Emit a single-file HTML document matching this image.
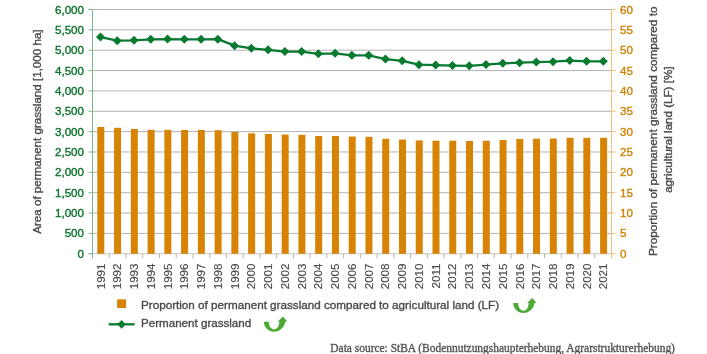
<!DOCTYPE html><html><head><meta charset="utf-8"><style>html,body{margin:0;padding:0;background:#fff;width:707px;height:354px;overflow:hidden}svg{display:block}text{font-family:"Liberation Sans",sans-serif;stroke:currentColor;stroke-width:0.35px}svg{will-change:transform}</style></head><body>
<svg width="707" height="354" viewBox="0 0 707 354">
<line x1="92.5" y1="9.50" x2="611.5" y2="9.50" stroke="#b3b3b3" stroke-width="1"/>
<line x1="92.5" y1="29.85" x2="611.5" y2="29.85" stroke="#b3b3b3" stroke-width="1"/>
<line x1="92.5" y1="50.21" x2="611.5" y2="50.21" stroke="#b3b3b3" stroke-width="1"/>
<line x1="92.5" y1="70.56" x2="611.5" y2="70.56" stroke="#b3b3b3" stroke-width="1"/>
<line x1="92.5" y1="90.92" x2="611.5" y2="90.92" stroke="#b3b3b3" stroke-width="1"/>
<line x1="92.5" y1="111.27" x2="611.5" y2="111.27" stroke="#b3b3b3" stroke-width="1"/>
<line x1="92.5" y1="131.62" x2="611.5" y2="131.62" stroke="#b3b3b3" stroke-width="1"/>
<line x1="92.5" y1="151.98" x2="611.5" y2="151.98" stroke="#b3b3b3" stroke-width="1"/>
<line x1="92.5" y1="172.33" x2="611.5" y2="172.33" stroke="#b3b3b3" stroke-width="1"/>
<line x1="92.5" y1="192.69" x2="611.5" y2="192.69" stroke="#b3b3b3" stroke-width="1"/>
<line x1="92.5" y1="213.04" x2="611.5" y2="213.04" stroke="#b3b3b3" stroke-width="1"/>
<line x1="92.5" y1="233.40" x2="611.5" y2="233.40" stroke="#b3b3b3" stroke-width="1"/>
<line x1="88.5" y1="253.75" x2="611.5" y2="253.75" stroke="#c4c4c4" stroke-width="1"/>
<rect x="97.30" y="127.00" width="7" height="126.75" fill="#d78406"/>
<rect x="114.06" y="127.80" width="7" height="125.95" fill="#d78406"/>
<rect x="130.82" y="129.00" width="7" height="124.75" fill="#d78406"/>
<rect x="147.58" y="129.80" width="7" height="123.95" fill="#d78406"/>
<rect x="164.34" y="129.80" width="7" height="123.95" fill="#d78406"/>
<rect x="181.10" y="130.00" width="7" height="123.75" fill="#d78406"/>
<rect x="197.86" y="130.00" width="7" height="123.75" fill="#d78406"/>
<rect x="214.62" y="130.20" width="7" height="123.55" fill="#d78406"/>
<rect x="231.38" y="132.00" width="7" height="121.75" fill="#d78406"/>
<rect x="248.14" y="133.30" width="7" height="120.45" fill="#d78406"/>
<rect x="264.90" y="134.00" width="7" height="119.75" fill="#d78406"/>
<rect x="281.66" y="134.50" width="7" height="119.25" fill="#d78406"/>
<rect x="298.42" y="134.80" width="7" height="118.95" fill="#d78406"/>
<rect x="315.18" y="136.00" width="7" height="117.75" fill="#d78406"/>
<rect x="331.94" y="136.00" width="7" height="117.75" fill="#d78406"/>
<rect x="348.70" y="136.50" width="7" height="117.25" fill="#d78406"/>
<rect x="365.46" y="136.80" width="7" height="116.95" fill="#d78406"/>
<rect x="382.22" y="138.80" width="7" height="114.95" fill="#d78406"/>
<rect x="398.98" y="139.50" width="7" height="114.25" fill="#d78406"/>
<rect x="415.74" y="140.40" width="7" height="113.35" fill="#d78406"/>
<rect x="432.50" y="140.70" width="7" height="113.05" fill="#d78406"/>
<rect x="449.26" y="140.70" width="7" height="113.05" fill="#d78406"/>
<rect x="466.02" y="141.00" width="7" height="112.75" fill="#d78406"/>
<rect x="482.78" y="140.70" width="7" height="113.05" fill="#d78406"/>
<rect x="499.54" y="140.00" width="7" height="113.75" fill="#d78406"/>
<rect x="516.30" y="139.00" width="7" height="114.75" fill="#d78406"/>
<rect x="533.06" y="138.70" width="7" height="115.05" fill="#d78406"/>
<rect x="549.82" y="138.50" width="7" height="115.25" fill="#d78406"/>
<rect x="566.58" y="137.80" width="7" height="115.95" fill="#d78406"/>
<rect x="583.34" y="137.80" width="7" height="115.95" fill="#d78406"/>
<rect x="600.10" y="137.80" width="7" height="115.95" fill="#d78406"/>
<line x1="109.24" y1="253.75" x2="109.24" y2="258.25" stroke="#b4b4b4" stroke-width="1"/>
<line x1="125.98" y1="253.75" x2="125.98" y2="258.25" stroke="#b4b4b4" stroke-width="1"/>
<line x1="142.73" y1="253.75" x2="142.73" y2="258.25" stroke="#b4b4b4" stroke-width="1"/>
<line x1="159.47" y1="253.75" x2="159.47" y2="258.25" stroke="#b4b4b4" stroke-width="1"/>
<line x1="176.21" y1="253.75" x2="176.21" y2="258.25" stroke="#b4b4b4" stroke-width="1"/>
<line x1="192.95" y1="253.75" x2="192.95" y2="258.25" stroke="#b4b4b4" stroke-width="1"/>
<line x1="209.69" y1="253.75" x2="209.69" y2="258.25" stroke="#b4b4b4" stroke-width="1"/>
<line x1="226.44" y1="253.75" x2="226.44" y2="258.25" stroke="#b4b4b4" stroke-width="1"/>
<line x1="243.18" y1="253.75" x2="243.18" y2="258.25" stroke="#b4b4b4" stroke-width="1"/>
<line x1="259.92" y1="253.75" x2="259.92" y2="258.25" stroke="#b4b4b4" stroke-width="1"/>
<line x1="276.66" y1="253.75" x2="276.66" y2="258.25" stroke="#b4b4b4" stroke-width="1"/>
<line x1="293.40" y1="253.75" x2="293.40" y2="258.25" stroke="#b4b4b4" stroke-width="1"/>
<line x1="310.15" y1="253.75" x2="310.15" y2="258.25" stroke="#b4b4b4" stroke-width="1"/>
<line x1="326.89" y1="253.75" x2="326.89" y2="258.25" stroke="#b4b4b4" stroke-width="1"/>
<line x1="343.63" y1="253.75" x2="343.63" y2="258.25" stroke="#b4b4b4" stroke-width="1"/>
<line x1="360.37" y1="253.75" x2="360.37" y2="258.25" stroke="#b4b4b4" stroke-width="1"/>
<line x1="377.11" y1="253.75" x2="377.11" y2="258.25" stroke="#b4b4b4" stroke-width="1"/>
<line x1="393.85" y1="253.75" x2="393.85" y2="258.25" stroke="#b4b4b4" stroke-width="1"/>
<line x1="410.60" y1="253.75" x2="410.60" y2="258.25" stroke="#b4b4b4" stroke-width="1"/>
<line x1="427.34" y1="253.75" x2="427.34" y2="258.25" stroke="#b4b4b4" stroke-width="1"/>
<line x1="444.08" y1="253.75" x2="444.08" y2="258.25" stroke="#b4b4b4" stroke-width="1"/>
<line x1="460.82" y1="253.75" x2="460.82" y2="258.25" stroke="#b4b4b4" stroke-width="1"/>
<line x1="477.56" y1="253.75" x2="477.56" y2="258.25" stroke="#b4b4b4" stroke-width="1"/>
<line x1="494.31" y1="253.75" x2="494.31" y2="258.25" stroke="#b4b4b4" stroke-width="1"/>
<line x1="511.05" y1="253.75" x2="511.05" y2="258.25" stroke="#b4b4b4" stroke-width="1"/>
<line x1="527.79" y1="253.75" x2="527.79" y2="258.25" stroke="#b4b4b4" stroke-width="1"/>
<line x1="544.53" y1="253.75" x2="544.53" y2="258.25" stroke="#b4b4b4" stroke-width="1"/>
<line x1="561.27" y1="253.75" x2="561.27" y2="258.25" stroke="#b4b4b4" stroke-width="1"/>
<line x1="578.02" y1="253.75" x2="578.02" y2="258.25" stroke="#b4b4b4" stroke-width="1"/>
<line x1="594.76" y1="253.75" x2="594.76" y2="258.25" stroke="#b4b4b4" stroke-width="1"/>
<line x1="92.5" y1="9.5" x2="92.5" y2="258.25" stroke="#7cb88a" stroke-width="1"/>
<line x1="88.5" y1="9.50" x2="92.5" y2="9.50" stroke="#7cb88a" stroke-width="1"/>
<line x1="88.5" y1="29.85" x2="92.5" y2="29.85" stroke="#7cb88a" stroke-width="1"/>
<line x1="88.5" y1="50.21" x2="92.5" y2="50.21" stroke="#7cb88a" stroke-width="1"/>
<line x1="88.5" y1="70.56" x2="92.5" y2="70.56" stroke="#7cb88a" stroke-width="1"/>
<line x1="88.5" y1="90.92" x2="92.5" y2="90.92" stroke="#7cb88a" stroke-width="1"/>
<line x1="88.5" y1="111.27" x2="92.5" y2="111.27" stroke="#7cb88a" stroke-width="1"/>
<line x1="88.5" y1="131.62" x2="92.5" y2="131.62" stroke="#7cb88a" stroke-width="1"/>
<line x1="88.5" y1="151.98" x2="92.5" y2="151.98" stroke="#7cb88a" stroke-width="1"/>
<line x1="88.5" y1="172.33" x2="92.5" y2="172.33" stroke="#7cb88a" stroke-width="1"/>
<line x1="88.5" y1="192.69" x2="92.5" y2="192.69" stroke="#7cb88a" stroke-width="1"/>
<line x1="88.5" y1="213.04" x2="92.5" y2="213.04" stroke="#7cb88a" stroke-width="1"/>
<line x1="88.5" y1="233.40" x2="92.5" y2="233.40" stroke="#7cb88a" stroke-width="1"/>
<line x1="88.5" y1="253.75" x2="92.5" y2="253.75" stroke="#7cb88a" stroke-width="1"/>
<line x1="611.5" y1="9.5" x2="611.5" y2="258.25" stroke="#f2c07a" stroke-width="1"/>
<line x1="611.5" y1="9.50" x2="615.5" y2="9.50" stroke="#f2c07a" stroke-width="1"/>
<line x1="611.5" y1="29.85" x2="615.5" y2="29.85" stroke="#f2c07a" stroke-width="1"/>
<line x1="611.5" y1="50.21" x2="615.5" y2="50.21" stroke="#f2c07a" stroke-width="1"/>
<line x1="611.5" y1="70.56" x2="615.5" y2="70.56" stroke="#f2c07a" stroke-width="1"/>
<line x1="611.5" y1="90.92" x2="615.5" y2="90.92" stroke="#f2c07a" stroke-width="1"/>
<line x1="611.5" y1="111.27" x2="615.5" y2="111.27" stroke="#f2c07a" stroke-width="1"/>
<line x1="611.5" y1="131.62" x2="615.5" y2="131.62" stroke="#f2c07a" stroke-width="1"/>
<line x1="611.5" y1="151.98" x2="615.5" y2="151.98" stroke="#f2c07a" stroke-width="1"/>
<line x1="611.5" y1="172.33" x2="615.5" y2="172.33" stroke="#f2c07a" stroke-width="1"/>
<line x1="611.5" y1="192.69" x2="615.5" y2="192.69" stroke="#f2c07a" stroke-width="1"/>
<line x1="611.5" y1="213.04" x2="615.5" y2="213.04" stroke="#f2c07a" stroke-width="1"/>
<line x1="611.5" y1="233.40" x2="615.5" y2="233.40" stroke="#f2c07a" stroke-width="1"/>
<line x1="611.5" y1="253.75" x2="615.5" y2="253.75" stroke="#f2c07a" stroke-width="1"/>
<text x="84" y="13.50" text-anchor="end" font-size="11.6" fill="#0a722a" color="#0a722a">6,000</text>
<text x="84" y="33.85" text-anchor="end" font-size="11.6" fill="#0a722a" color="#0a722a">5,500</text>
<text x="84" y="54.21" text-anchor="end" font-size="11.6" fill="#0a722a" color="#0a722a">5,000</text>
<text x="84" y="74.56" text-anchor="end" font-size="11.6" fill="#0a722a" color="#0a722a">4,500</text>
<text x="84" y="94.92" text-anchor="end" font-size="11.6" fill="#0a722a" color="#0a722a">4,000</text>
<text x="84" y="115.27" text-anchor="end" font-size="11.6" fill="#0a722a" color="#0a722a">3,500</text>
<text x="84" y="135.62" text-anchor="end" font-size="11.6" fill="#0a722a" color="#0a722a">3,000</text>
<text x="84" y="155.98" text-anchor="end" font-size="11.6" fill="#0a722a" color="#0a722a">2,500</text>
<text x="84" y="176.33" text-anchor="end" font-size="11.6" fill="#0a722a" color="#0a722a">2,000</text>
<text x="84" y="196.69" text-anchor="end" font-size="11.6" fill="#0a722a" color="#0a722a">1,500</text>
<text x="84" y="217.04" text-anchor="end" font-size="11.6" fill="#0a722a" color="#0a722a">1,000</text>
<text x="84" y="237.40" text-anchor="end" font-size="11.6" fill="#0a722a" color="#0a722a">500</text>
<text x="84" y="257.75" text-anchor="end" font-size="11.6" fill="#0a722a" color="#0a722a">0</text>
<text x="620" y="13.50" font-size="11.6" fill="#cf8106" color="#cf8106">60</text>
<text x="620" y="33.85" font-size="11.6" fill="#cf8106" color="#cf8106">55</text>
<text x="620" y="54.21" font-size="11.6" fill="#cf8106" color="#cf8106">50</text>
<text x="620" y="74.56" font-size="11.6" fill="#cf8106" color="#cf8106">45</text>
<text x="620" y="94.92" font-size="11.6" fill="#cf8106" color="#cf8106">40</text>
<text x="620" y="115.27" font-size="11.6" fill="#cf8106" color="#cf8106">35</text>
<text x="620" y="135.62" font-size="11.6" fill="#cf8106" color="#cf8106">30</text>
<text x="620" y="155.98" font-size="11.6" fill="#cf8106" color="#cf8106">25</text>
<text x="620" y="176.33" font-size="11.6" fill="#cf8106" color="#cf8106">20</text>
<text x="620" y="196.69" font-size="11.6" fill="#cf8106" color="#cf8106">15</text>
<text x="620" y="217.04" font-size="11.6" fill="#cf8106" color="#cf8106">10</text>
<text x="620" y="237.40" font-size="11.6" fill="#cf8106" color="#cf8106">5</text>
<text x="620" y="257.75" font-size="11.6" fill="#cf8106" color="#cf8106">0</text>
<text transform="translate(104.50,263.5) rotate(-90)" text-anchor="end" font-size="11.6" fill="#4a4a4a" color="#4a4a4a" style="stroke-width:0.15px">1991</text>
<text transform="translate(121.26,263.5) rotate(-90)" text-anchor="end" font-size="11.6" fill="#4a4a4a" color="#4a4a4a" style="stroke-width:0.15px">1992</text>
<text transform="translate(138.02,263.5) rotate(-90)" text-anchor="end" font-size="11.6" fill="#4a4a4a" color="#4a4a4a" style="stroke-width:0.15px">1993</text>
<text transform="translate(154.78,263.5) rotate(-90)" text-anchor="end" font-size="11.6" fill="#4a4a4a" color="#4a4a4a" style="stroke-width:0.15px">1994</text>
<text transform="translate(171.54,263.5) rotate(-90)" text-anchor="end" font-size="11.6" fill="#4a4a4a" color="#4a4a4a" style="stroke-width:0.15px">1995</text>
<text transform="translate(188.30,263.5) rotate(-90)" text-anchor="end" font-size="11.6" fill="#4a4a4a" color="#4a4a4a" style="stroke-width:0.15px">1996</text>
<text transform="translate(205.06,263.5) rotate(-90)" text-anchor="end" font-size="11.6" fill="#4a4a4a" color="#4a4a4a" style="stroke-width:0.15px">1997</text>
<text transform="translate(221.82,263.5) rotate(-90)" text-anchor="end" font-size="11.6" fill="#4a4a4a" color="#4a4a4a" style="stroke-width:0.15px">1998</text>
<text transform="translate(238.58,263.5) rotate(-90)" text-anchor="end" font-size="11.6" fill="#4a4a4a" color="#4a4a4a" style="stroke-width:0.15px">1999</text>
<text transform="translate(255.34,263.5) rotate(-90)" text-anchor="end" font-size="11.6" fill="#4a4a4a" color="#4a4a4a" style="stroke-width:0.15px">2000</text>
<text transform="translate(272.10,263.5) rotate(-90)" text-anchor="end" font-size="11.6" fill="#4a4a4a" color="#4a4a4a" style="stroke-width:0.15px">2001</text>
<text transform="translate(288.86,263.5) rotate(-90)" text-anchor="end" font-size="11.6" fill="#4a4a4a" color="#4a4a4a" style="stroke-width:0.15px">2002</text>
<text transform="translate(305.62,263.5) rotate(-90)" text-anchor="end" font-size="11.6" fill="#4a4a4a" color="#4a4a4a" style="stroke-width:0.15px">2003</text>
<text transform="translate(322.38,263.5) rotate(-90)" text-anchor="end" font-size="11.6" fill="#4a4a4a" color="#4a4a4a" style="stroke-width:0.15px">2004</text>
<text transform="translate(339.14,263.5) rotate(-90)" text-anchor="end" font-size="11.6" fill="#4a4a4a" color="#4a4a4a" style="stroke-width:0.15px">2005</text>
<text transform="translate(355.90,263.5) rotate(-90)" text-anchor="end" font-size="11.6" fill="#4a4a4a" color="#4a4a4a" style="stroke-width:0.15px">2006</text>
<text transform="translate(372.66,263.5) rotate(-90)" text-anchor="end" font-size="11.6" fill="#4a4a4a" color="#4a4a4a" style="stroke-width:0.15px">2007</text>
<text transform="translate(389.42,263.5) rotate(-90)" text-anchor="end" font-size="11.6" fill="#4a4a4a" color="#4a4a4a" style="stroke-width:0.15px">2008</text>
<text transform="translate(406.18,263.5) rotate(-90)" text-anchor="end" font-size="11.6" fill="#4a4a4a" color="#4a4a4a" style="stroke-width:0.15px">2009</text>
<text transform="translate(422.94,263.5) rotate(-90)" text-anchor="end" font-size="11.6" fill="#4a4a4a" color="#4a4a4a" style="stroke-width:0.15px">2010</text>
<text transform="translate(439.70,263.5) rotate(-90)" text-anchor="end" font-size="11.6" fill="#4a4a4a" color="#4a4a4a" style="stroke-width:0.15px">2011</text>
<text transform="translate(456.46,263.5) rotate(-90)" text-anchor="end" font-size="11.6" fill="#4a4a4a" color="#4a4a4a" style="stroke-width:0.15px">2012</text>
<text transform="translate(473.22,263.5) rotate(-90)" text-anchor="end" font-size="11.6" fill="#4a4a4a" color="#4a4a4a" style="stroke-width:0.15px">2013</text>
<text transform="translate(489.98,263.5) rotate(-90)" text-anchor="end" font-size="11.6" fill="#4a4a4a" color="#4a4a4a" style="stroke-width:0.15px">2014</text>
<text transform="translate(506.74,263.5) rotate(-90)" text-anchor="end" font-size="11.6" fill="#4a4a4a" color="#4a4a4a" style="stroke-width:0.15px">2015</text>
<text transform="translate(523.50,263.5) rotate(-90)" text-anchor="end" font-size="11.6" fill="#4a4a4a" color="#4a4a4a" style="stroke-width:0.15px">2016</text>
<text transform="translate(540.26,263.5) rotate(-90)" text-anchor="end" font-size="11.6" fill="#4a4a4a" color="#4a4a4a" style="stroke-width:0.15px">2017</text>
<text transform="translate(557.02,263.5) rotate(-90)" text-anchor="end" font-size="11.6" fill="#4a4a4a" color="#4a4a4a" style="stroke-width:0.15px">2018</text>
<text transform="translate(573.78,263.5) rotate(-90)" text-anchor="end" font-size="11.6" fill="#4a4a4a" color="#4a4a4a" style="stroke-width:0.15px">2019</text>
<text transform="translate(590.54,263.5) rotate(-90)" text-anchor="end" font-size="11.6" fill="#4a4a4a" color="#4a4a4a" style="stroke-width:0.15px">2020</text>
<text transform="translate(607.30,263.5) rotate(-90)" text-anchor="end" font-size="11.6" fill="#4a4a4a" color="#4a4a4a" style="stroke-width:0.15px">2021</text>
<polyline points="100.50,37.05 117.26,40.65 134.02,40.35 150.78,39.35 167.54,39.05 184.30,39.35 201.06,39.35 217.82,39.15 234.58,45.65 251.34,48.35 268.10,49.85 284.86,51.55 301.62,51.55 318.38,53.85 335.14,53.35 351.90,55.35 368.66,55.35 385.42,59.05 402.18,60.85 418.94,64.65 435.70,65.05 452.46,65.55 469.22,65.85 485.98,64.55 502.74,63.35 519.50,62.65 536.26,62.05 553.02,61.65 569.78,60.55 586.54,61.35 603.30,61.35" fill="none" stroke="#087a30" stroke-width="2.3" stroke-linejoin="round"/>
<path d="M100.50 32.55L105.00 37.05L100.50 41.55L96.00 37.05Z" fill="#087a30"/>
<path d="M117.26 36.15L121.76 40.65L117.26 45.15L112.76 40.65Z" fill="#087a30"/>
<path d="M134.02 35.85L138.52 40.35L134.02 44.85L129.52 40.35Z" fill="#087a30"/>
<path d="M150.78 34.85L155.28 39.35L150.78 43.85L146.28 39.35Z" fill="#087a30"/>
<path d="M167.54 34.55L172.04 39.05L167.54 43.55L163.04 39.05Z" fill="#087a30"/>
<path d="M184.30 34.85L188.80 39.35L184.30 43.85L179.80 39.35Z" fill="#087a30"/>
<path d="M201.06 34.85L205.56 39.35L201.06 43.85L196.56 39.35Z" fill="#087a30"/>
<path d="M217.82 34.65L222.32 39.15L217.82 43.65L213.32 39.15Z" fill="#087a30"/>
<path d="M234.58 41.15L239.08 45.65L234.58 50.15L230.08 45.65Z" fill="#087a30"/>
<path d="M251.34 43.85L255.84 48.35L251.34 52.85L246.84 48.35Z" fill="#087a30"/>
<path d="M268.10 45.35L272.60 49.85L268.10 54.35L263.60 49.85Z" fill="#087a30"/>
<path d="M284.86 47.05L289.36 51.55L284.86 56.05L280.36 51.55Z" fill="#087a30"/>
<path d="M301.62 47.05L306.12 51.55L301.62 56.05L297.12 51.55Z" fill="#087a30"/>
<path d="M318.38 49.35L322.88 53.85L318.38 58.35L313.88 53.85Z" fill="#087a30"/>
<path d="M335.14 48.85L339.64 53.35L335.14 57.85L330.64 53.35Z" fill="#087a30"/>
<path d="M351.90 50.85L356.40 55.35L351.90 59.85L347.40 55.35Z" fill="#087a30"/>
<path d="M368.66 50.85L373.16 55.35L368.66 59.85L364.16 55.35Z" fill="#087a30"/>
<path d="M385.42 54.55L389.92 59.05L385.42 63.55L380.92 59.05Z" fill="#087a30"/>
<path d="M402.18 56.35L406.68 60.85L402.18 65.35L397.68 60.85Z" fill="#087a30"/>
<path d="M418.94 60.15L423.44 64.65L418.94 69.15L414.44 64.65Z" fill="#087a30"/>
<path d="M435.70 60.55L440.20 65.05L435.70 69.55L431.20 65.05Z" fill="#087a30"/>
<path d="M452.46 61.05L456.96 65.55L452.46 70.05L447.96 65.55Z" fill="#087a30"/>
<path d="M469.22 61.35L473.72 65.85L469.22 70.35L464.72 65.85Z" fill="#087a30"/>
<path d="M485.98 60.05L490.48 64.55L485.98 69.05L481.48 64.55Z" fill="#087a30"/>
<path d="M502.74 58.85L507.24 63.35L502.74 67.85L498.24 63.35Z" fill="#087a30"/>
<path d="M519.50 58.15L524.00 62.65L519.50 67.15L515.00 62.65Z" fill="#087a30"/>
<path d="M536.26 57.55L540.76 62.05L536.26 66.55L531.76 62.05Z" fill="#087a30"/>
<path d="M553.02 57.15L557.52 61.65L553.02 66.15L548.52 61.65Z" fill="#087a30"/>
<path d="M569.78 56.05L574.28 60.55L569.78 65.05L565.28 60.55Z" fill="#087a30"/>
<path d="M586.54 56.85L591.04 61.35L586.54 65.85L582.04 61.35Z" fill="#087a30"/>
<path d="M603.30 56.85L607.80 61.35L603.30 65.85L598.80 61.35Z" fill="#087a30"/>
<text transform="translate(40.6,131.6) rotate(-90)" text-anchor="middle" font-size="11.6" fill="#4a4a4a" color="#4a4a4a">Area of permanent grassland [1,000 ha]</text>
<text transform="translate(657.4,131.3) rotate(-90)" text-anchor="middle" font-size="11.75" fill="#4a4a4a" color="#4a4a4a">Proportion of permanent grassland compared to</text>
<text transform="translate(672.2,129.7) rotate(-90)" text-anchor="middle" font-size="11.6" fill="#4a4a4a" color="#4a4a4a">agricultural land (LF) [%]</text>
<rect x="117.1" y="299.3" width="9" height="8.7" fill="#d78406"/>
<text x="141" y="309.2" font-size="11.68" fill="#4a4a4a" color="#4a4a4a">Proportion of permanent grassland compared to agricultural land (LF)</text>
<line x1="108.7" y1="324.3" x2="134.7" y2="324.3" stroke="#087a30" stroke-width="2.3"/>
<path d="M121.6 319.9L125.8 324.35L121.6 328.8L117.4 324.35Z" fill="#087a30"/>
<text x="141" y="327.1" font-size="11.6" fill="#4a4a4a" color="#4a4a4a">Permanent grassland</text>
<g transform="translate(508,294)"><path d="M5.2 9.1C5.3 14.6 9.6 19.1 15.6 19.1C21.4 19.1 25.6 14.6 26.5 9.1L28.6 8.9L24.2 3.9L19.1 9.1L20.8 9.1C20.4 13.6 18.4 16.7 15.6 16.7C12.4 16.7 10.2 13.6 10.1 9.1Z" fill="#4caa34"/></g>
<g transform="translate(258.65,312.65)"><path d="M5.2 9.1C5.3 14.6 9.6 19.1 15.6 19.1C21.4 19.1 25.6 14.6 26.5 9.1L28.6 8.9L24.2 3.9L19.1 9.1L20.8 9.1C20.4 13.6 18.4 16.7 15.6 16.7C12.4 16.7 10.2 13.6 10.1 9.1Z" fill="#4caa34"/></g>
<text x="330.3" y="351.5" font-family="Liberation Serif" style="font-family:'Liberation Serif',serif" font-size="11.45" fill="#555" color="#555" style2="">Data source: StBA (Bodennutzungshaupterhebung, Agrarstrukturerhebung)</text>
</svg></body></html>
